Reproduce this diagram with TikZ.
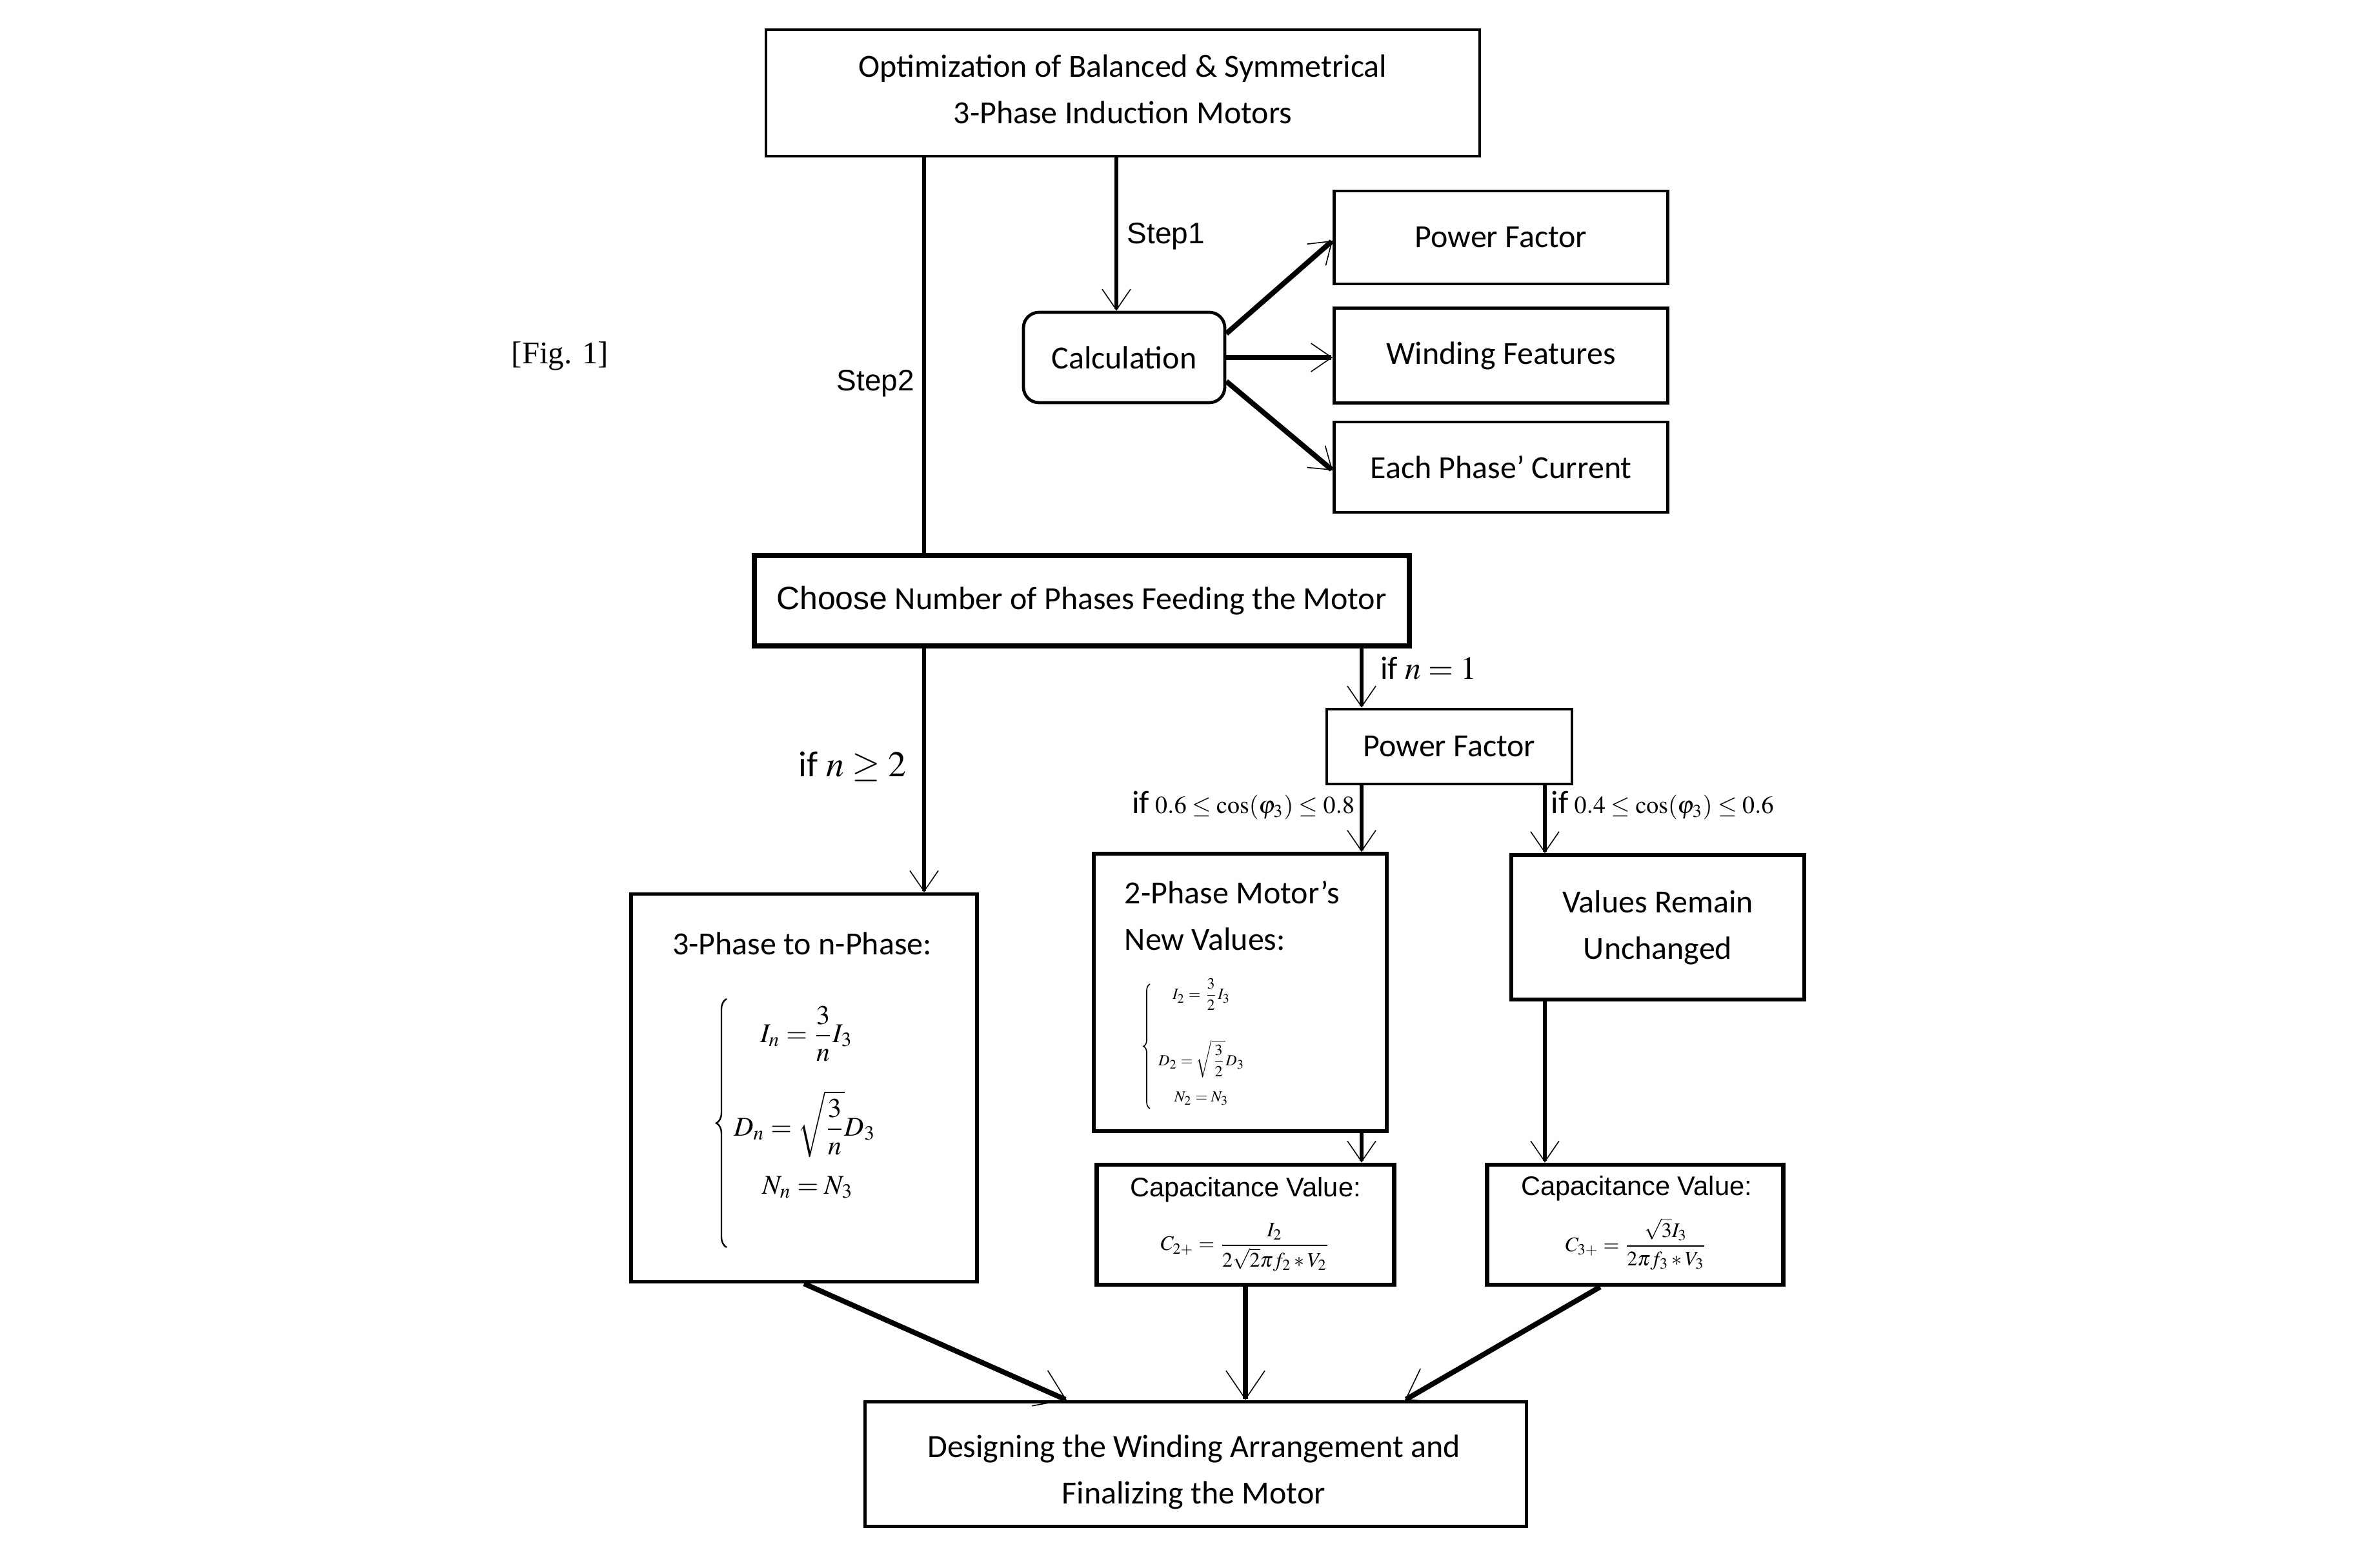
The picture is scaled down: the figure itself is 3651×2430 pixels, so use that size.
\documentclass[tikz,border=0pt]{standalone}
\usepackage{mathptmx}
\usepackage{amsmath}
\usepackage{fontspec}
\setmainfont{Carlito}
\newfontfamily\arialf{Liberation Sans}
\newfontfamily\timesf{Liberation Serif}
\usetikzlibrary{arrows.meta,decorations.pathreplacing}
\tikzset{
  wh/.style 2 args={minimum width=#1*0.25pt, minimum height=#2*0.25pt},
  box/.style={draw, line width=1.2pt, inner sep=0pt, align=center, font=\fontsize{12.5}{18}\selectfont},
  tbox/.style={box, line width=2pt},
  cbox/.style={box, line width=1.7pt},
  rbox/.style={box, rounded corners=6pt},
  txt/.style={inner sep=0pt, align=center, font=\fontsize{12.5}{18}\selectfont},
  lab/.style={inner sep=0pt, font=\arialf\fontsize{11.5}{14}\selectfont},
  conn/.style={line width=1.5pt},
  arrS/.style={conn, -{Straight Barb[length=8pt,width=11pt,line width=0.4pt]}},
  arrB/.style={line width=2pt, -{Straight Barb[length=11pt,width=15pt,line width=0.4pt]}},
  curly/.style={decorate, decoration={brace, amplitude=#1}, line width=0.6pt},
}
\begin{document}
\begin{tikzpicture}[x=0.25pt,y=-0.25pt]
\fill[white] (0,0) rectangle (3651,2430);
\useasboundingbox (0,0) rectangle (3651,2430);

% boxes
\node[box, wh={1106}{196}] (top) at (1740,144) {};
\node[txt] (toptext) at (1740,138) {Optimization of Balanced \& Symmetrical\\3-Phase Induction Motors};
\node[inner sep=0pt, font=\timesf\fontsize{12.2}{14}\selectfont] (fig) at (868,552) {[Fig. 1]};
\node[rbox, wh={312}{140}] (calc) at (1742,554) {Calculation};
\node[box, wh={517}{144}] (pf1) at (2326,368) {Power Factor};
\node[box, wh={517}{147}] (wf) at (2326,551) {Winding Features};
\node[box, wh={517}{140}] (epc) at (2326,724) {Each Phase{\char"0027} Current};
\node[tbox, wh={1015}{140}] (choose) at (1676,931) {{\arialf Choose} Number of Phases Feeding the Motor};
\node[box, wh={380}{116}] (pf2) at (2246,1157) {Power Factor};
\node[box, line width=1.4pt, wh={536}{601}] (three) at (1246,1686) {};
\node[box, line width=1.4pt, wh={454}{430}] (two) at (1922,1538) {};
\node[box, line width=1.4pt, wh={454}{224}] (vals) at (2569,1437) {Values Remain\\Unchanged};
\node[cbox, wh={461}{186}] (cap1) at (1930,1898) {};
\node[cbox, wh={459}{186}] (cap2) at (2534,1898) {};
\node[box, line width=1.4pt, wh={1025}{193}] (final) at (1853,2269) {};
\node[txt] (finaltext) at (1850,2281) {Designing the Winding Arrangement and\\Finalizing the Motor};

% contents of 3-phase box
\node[txt] (threet) at (1243,1462) {3-Phase to n-Phase:};
\coordinate (b1t) at (1126,1548);
\coordinate (b1b) at (1126,1933);
\draw[curly=4pt] (b1b) -- (b1t);
\node[inner sep=0pt, font=\fontsize{10.5}{12}\selectfont] (eq1) at (1250,1602) {$\displaystyle I_n=\frac{3}{n}I_3$};
\node[inner sep=0pt, font=\fontsize{10.5}{12}\selectfont] (eq2) at (1247,1742) {$\displaystyle D_n=\sqrt{\frac{3}{n}}D_3$};
\node[inner sep=0pt, font=\fontsize{10.5}{12}\selectfont] (eq3) at (1252,1840) {$\displaystyle N_n=N_3$};

% contents of 2-phase box
\node[txt, align=left, anchor=west] (twot) at (1742,1419) {2-Phase Motor’s\\New Values:};
\coordinate (b2t) at (1782,1525);
\coordinate (b2b) at (1782,1718);
\draw[curly=2.5pt, line width=0.4pt] (b2b) -- (b2t);
\node[inner sep=0pt, font=\fontsize{6}{7}\selectfont] (e21) at (1862,1541) {$\displaystyle I_2=\frac{3}{2}I_3$};
\node[inner sep=0pt, font=\fontsize{6}{7}\selectfont] (e22) at (1862,1641) {$\displaystyle D_2=\sqrt{\frac{3}{2}}D_3$};
\node[inner sep=0pt, font=\fontsize{6}{7}\selectfont] (e23) at (1862,1702) {$\displaystyle N_2=N_3$};

% capacitance boxes
\node[inner sep=0pt, font=\arialf\fontsize{10.4}{12}\selectfont] (cap1t) at (1930,1844) {Capacitance Value:};
\node[inner sep=0pt, font=\fontsize{8}{10}\selectfont] (cap1f) at (1930,1933) {$\displaystyle C_{2+}=\frac{I_2}{2\sqrt{2}\pi f_2 * V_2}$};
\node[inner sep=0pt, font=\arialf\fontsize{10.4}{12}\selectfont] (cap2t) at (2536,1842) {Capacitance Value:};
\node[inner sep=0pt, font=\fontsize{8}{10}\selectfont] (cap2f) at (2536,1928) {$\displaystyle C_{3+}=\frac{\sqrt{3}I_3}{2\pi f_3 * V_3}$};

% labels
\node[lab] (step1) at (1807,366) {Step1};
\node[lab] (step2) at (1357,594) {Step2};
\node[inner sep=0pt, font=\fontsize{12.5}{14}\selectfont] (ifn1) at (2214,1036) {if $n=1$};
\node[inner sep=0pt, font=\fontsize{14}{16}\selectfont] (ifn2) at (1321,1188) {if $n\geq 2$};
\node[inner sep=0pt, anchor=east] (ifa) at (2100,1248) {{\fontsize{12.5}{14}\selectfont if} {\fontsize{9.5}{11}\selectfont $0.6\leq\cos(\varphi_3)\leq0.8$}};
\node[inner sep=0pt, anchor=west] (ifb) at (2403,1248) {{\fontsize{12.5}{14}\selectfont if} {\fontsize{9.5}{11}\selectfont $0.4\leq\cos(\varphi_3)\leq0.6$}};

% helper coordinates for vertical connector positions
\coordinate (s1) at (1730,0);
\coordinate (s2) at (1432,0);
\coordinate (c1) at (2110,0);
\coordinate (c2) at (2394,0);

% connectors
\draw[arrS] (top.south -| s1) -- (calc.north -| s1);
\draw[conn] (top.south -| s2) -- (choose.north -| s2);
\draw[arrS] (choose.south -| s2) -- (three.north -| s2);
\draw[arrS, line width=2pt] ([yshift=9.25pt]calc.east) -- ([yshift=-1.2pt]pf1.west);
\draw[arrS, line width=2pt] (calc.east) -- (wf.west |- calc.east);
\draw[arrS, line width=2pt] ([yshift=-9.25pt]calc.east) -- ([yshift=-1.25pt]epc.west);
\draw[arrS] (choose.south -| c1) -- (pf2.north -| c1);
\draw[arrS] (pf2.south -| c1) -- (two.north -| c1);
\draw[arrS] (pf2.south -| c2) -- (vals.north -| c2);
\draw[arrS] (two.south -| c1) -- (cap1.north -| c1);
\draw[arrS] (vals.south -| c2) -- (cap2.north -| c2);
\draw[arrB] (three.south) -- ([xshift=-50pt]final.north);
\draw[arrB] (cap1.south) -- (final.north -| cap1.south);
\draw[arrB] ([xshift=-13.6pt]cap2.south) -- ([xshift=81pt]final.north);
\end{tikzpicture}
\end{document}
